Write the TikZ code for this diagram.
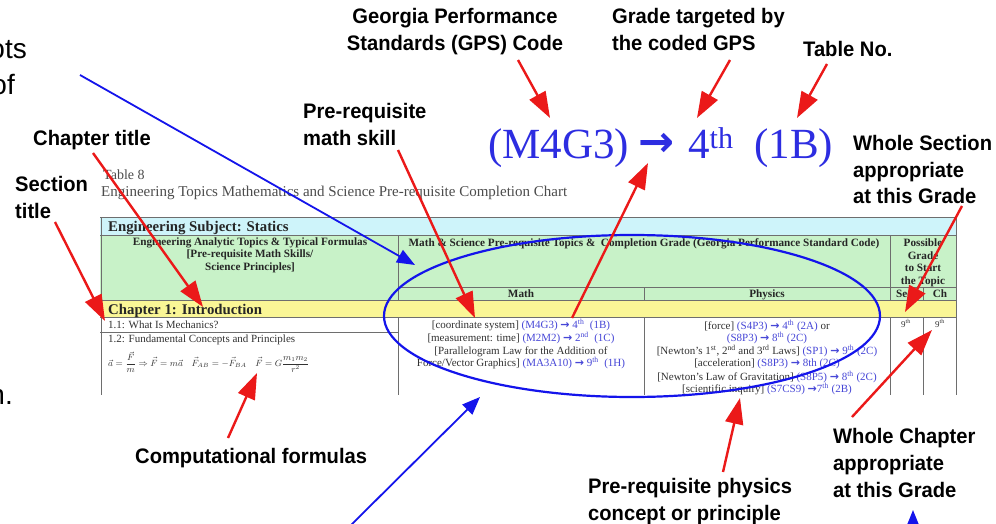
\documentclass[tikz,border=0pt]{standalone}
\usepackage{fontspec}
\setmainfont{Liberation Serif}
\newfontfamily\lblfont[FakeStretch=0.96]{Liberation Sans}
\newfontfamily\slidefont{Liberation Sans}
\newfontfamily\symfont{DejaVu Sans}
\usetikzlibrary{arrows.meta}

\definecolor{redarr}{RGB}{235,25,25}
\definecolor{bluearr}{RGB}{20,20,235}
\definecolor{gpsblue}{RGB}{45,45,225}
\definecolor{codeblue}{RGB}{70,70,215}
\definecolor{bodygray}{RGB}{50,50,50}
\definecolor{rulegray}{RGB}{110,110,110}
\definecolor{rowcyan}{RGB}{206,244,250}
\definecolor{rowgreen}{RGB}{200,242,200}
\definecolor{rowyellow}{RGB}{250,246,150}

\newcommand\garr{{\symfont\bfseries →}}
\newcommand\code[1]{\textcolor{codeblue}{#1}}

\tikzset{
  lbl/.style={font=\lblfont\bfseries\fontsize{21}{27}\selectfont, text=black, inner sep=0pt, align=left},
  redarrow/.style={draw=redarr, line width=2.4pt, -{Triangle[length=26pt,width=18pt]}},
  bluearrow/.style={draw=bluearr, line width=1.8pt, -{Triangle[length=18pt,width=14pt]}},
  blueline/.style={draw=bluearr, line width=2.2pt},
  cell/.style={inner sep=0pt, font=\fontsize{11}{13}\selectfont, text=bodygray, align=center},
  hdr/.style={inner sep=0pt, font=\bfseries\fontsize{11.2}{12.5}\selectfont, text=black!85, align=center},
  rule/.style={draw=rulegray, line width=1pt},
  slide/.style={font=\slidefont\fontsize{28}{34}\selectfont, inner sep=0pt, text=black},
  big/.style={inner sep=0pt, anchor=base west, text=gpsblue, font=\fontsize{43}{47}\selectfont},
}

\begin{document}
\begin{tikzpicture}[x=1pt,y=-1pt]
\useasboundingbox (0,0) rectangle (996,524);
\fill[white] (0,0) rectangle (996,524);
\clip (0,0) rectangle (996,524);

% slide text cut at the left edge
\node[slide,anchor=base east] (s1) at (27,59) {ots};
\node[slide,anchor=base east] (s2) at (15,95) {of};
\node[slide,anchor=base east] (s3) at (13,404) {n.};

% ---- chart caption ----
\node[inner sep=0pt,anchor=base west,font=\fontsize{14}{16}\selectfont,text=black!70] (tabno) at (103,179) {Table 8};
\node[inner sep=0pt,anchor=base west,font=\fontsize{15}{17}\selectfont,text=black!70] (tabcap) at (101,196)
  {Engineering Topics Mathematics and Science Pre-requisite Completion Chart};

% ---- table backgrounds ----
\fill[rowcyan] (100,217) rectangle (957,235);
\fill[rowgreen] (100,235) rectangle (957,300);
\fill[rowyellow] (100,300) rectangle (957,317);

% ---- table rules ----
\draw[rule] (100,217) -- (957,217);
\draw[rule] (100,235) -- (957,235);
\draw[rule] (398,287) -- (957,287);
\draw[rule] (100,300) -- (957,300);
\draw[rule] (100,317) -- (957,317);
\draw[rule] (100,332) -- (398,332);
\draw[rule] (101,217) -- (101,395);
\draw[rule] (956,217) -- (956,395);
\draw[rule] (398,235) -- (398,300);
\draw[rule] (398,317) -- (398,395);
\draw[rule] (644,287) -- (644,300);
\draw[rule] (644,317) -- (644,395);
\draw[rule] (890,235) -- (890,300);
\draw[rule] (890,317) -- (890,395);
\draw[rule] (923,287) -- (923,300);
\draw[rule] (923,317) -- (923,395);

% ---- table headers (multi-line nodes sit on their last baseline) ----
\node[inner sep=0pt,anchor=base west,font=\bfseries\fontsize{14.8}{17}\selectfont,text=black!85] (subj) at (108,231)
  {Engineering Subject: Statics};
\node[hdr,anchor=base] (h1) at (250,270)
  {Engineering Analytic Topics \& Typical Formulas\\{[}Pre-requisite Math Skills/\\Science Principles{]}};
\node[hdr,anchor=base] (h2) at (644,246)
  {Math \& Science Pre-requisite Topics \&\ \ Completion Grade (Georgia Performance Standard Code)};
\node[hdr,anchor=base] (h3) at (923,284) {Possible\\Grade\\to Start\\the Topic};
\node[hdr,anchor=base] (hm) at (521,297) {Math};
\node[hdr,anchor=base] (hp) at (767,297) {Physics};
\node[hdr,anchor=base] (hs) at (906,297) {Sect};
\node[hdr,anchor=base] (hc) at (940,297) {Ch};

% ---- chapter and sections ----
\node[inner sep=0pt,anchor=base west,font=\bfseries\fontsize{14.8}{17}\selectfont,text=black!85] (chap) at (108,314)
  {Chapter 1: Introduction};
\node[cell,anchor=base west] (sec1) at (108,328) {1.1: What Is Mechanics?};
\node[cell,anchor=base west] (sec2) at (108,342) {1.2: Fundamental Concepts and Principles};
\node[inner sep=0pt,anchor=west,text=bodygray,font=\fontsize{8.6}{10}\selectfont] (formula) at (108,362)
  {$\vec a=\displaystyle\frac{\vec F}{m}\Rightarrow \vec F=m\vec a\quad \vec F_{AB}=-\vec F_{BA}\quad \vec F=G\frac{m_1m_2}{r^2}$};

% ---- math column ----
\node[cell,anchor=base] (m1) at (521,328) {[coordinate system] \code{(M4G3) \garr{} 4\textsuperscript{th}\ \ (1B)}};
\node[cell,anchor=base] (m2) at (521,341) {[measurement: time] \code{(M2M2) \garr{} 2\textsuperscript{nd}\ \ (1C)}};
\node[cell,anchor=base] (m3) at (521,354) {[Parallelogram Law for the Addition of};
\node[cell,anchor=base] (m4) at (521,366) {Force/Vector Graphics] \code{(MA3A10) \garr{} 9\textsuperscript{th}\ \ (1H)}};

% ---- physics column ----
\node[cell,anchor=base] (p1) at (767,329) {[force] \code{(S4P3) \garr{} 4\textsuperscript{th} (2A)} or};
\node[cell,anchor=base] (p2) at (767,341) {\code{(S8P3) \garr{} 8\textsuperscript{th} (2C)}};
\node[cell,anchor=base] (p3) at (767,354) {[Newton’s 1\textsuperscript{st}, 2\textsuperscript{nd} and 3\textsuperscript{rd} Laws] \code{(SP1) \garr{} 9\textsuperscript{th} (2C)}};
\node[cell,anchor=base] (p4) at (767,366) {[acceleration] \code{(S8P3) \garr{} 8th (2C)}};
\node[cell,anchor=base] (p5) at (767,380) {[Newton’s Law of Gravitation] \code{(S8P5) \garr{} 8\textsuperscript{th} (2C)}};
\node[cell,anchor=base] (p6) at (767,392) {[scientific inquiry] \code{(S7CS9) \garr{}7\textsuperscript{th} (2B)}};

% ---- grade columns ----
\node[cell,anchor=base,font=\fontsize{9}{10}\selectfont] (gs) at (906,327) {9\textsuperscript{th}};
\node[cell,anchor=base,font=\fontsize{9}{10}\selectfont] (gc) at (940,327) {9\textsuperscript{th}};

% ---- enlarged GPS code ----
\node[big] (gcode) at (488,158) {(M4G3)};
\node[big,font=\symfont\bfseries\fontsize{43}{47}\selectfont] (garrow) at (638,157) {→};
\node[big] (ggrade) at (688,158) {4\textsuperscript{th}};
\node[big] (gtable) at (754,158) {(1B)};

% ---- blue highlights ----
\draw[blueline] (632,316) ellipse [x radius=248pt, y radius=81pt];
\coordinate (bt1) at (80,75);   \coordinate (bh1) at (415,265);
\coordinate (bt2) at (346,530); \coordinate (bh2) at (480,397);
\coordinate (bt3) at (913,545); \coordinate (bh3) at (913,510);
\draw[bluearrow] (bt1) -- (bh1);
\draw[bluearrow] (bt2) -- (bh2);
\draw[bluearrow] (bt3) -- (bh3);

% ---- callout labels (multi-line nodes sit on their last baseline) ----
\node[lbl,anchor=base,align=center] (lgps) at (455,51) {Georgia Performance\\Standards (GPS) Code};
\node[lbl,anchor=base west] (lgrade) at (612,51) {Grade targeted by\\the coded GPS};
\node[lbl,anchor=base west] (ltab) at (803,57) {Table No.};
\node[lbl,anchor=base west] (lmath) at (303,146) {Pre-requisite\\math skill};
\node[lbl,anchor=base west] (lchap) at (33,146) {Chapter title};
\node[lbl,anchor=base west] (lsec) at (15,218) {Section\\title};
\node[lbl,anchor=base west] (lwsec) at (853,204) {Whole Section\\appropriate\\at this Grade};
\node[lbl,anchor=base west] (lform) at (135,463) {Computational formulas};
\node[lbl,anchor=base west] (lphys) at (588,520) {Pre-requisite physics\\concept or principle};
\node[lbl,anchor=base west] (lwch) at (833,497) {Whole Chapter\\appropriate\\at this Grade};

% ---- red callout arrows ----
\coordinate (rt1) at (518,60);  \coordinate (rh1) at (550,118);
\coordinate (rt2) at (730,60);  \coordinate (rh2) at (697,118);
\coordinate (rt3) at (827,64);  \coordinate (rh3) at (797,118);
\coordinate (rt4) at (398,150); \coordinate (rh4) at (475,318);
\coordinate (rt5) at (572,318); \coordinate (rh5) at (648,163);
\coordinate (rt6) at (93,153);  \coordinate (rh6) at (203,307);
\coordinate (rt7) at (55,222);  \coordinate (rh7) at (105,321);
\coordinate (rt8) at (962,206); \coordinate (rh8) at (905,312);
\coordinate (rt9) at (228,438); \coordinate (rh9) at (257,373);
\coordinate (rt10) at (723,472); \coordinate (rh10) at (740,398);
\coordinate (rt11) at (852,417); \coordinate (rh11) at (932,330);
\foreach \i in {1,...,11} \draw[redarrow] (rt\i) -- (rh\i);
\end{tikzpicture}
\end{document}
